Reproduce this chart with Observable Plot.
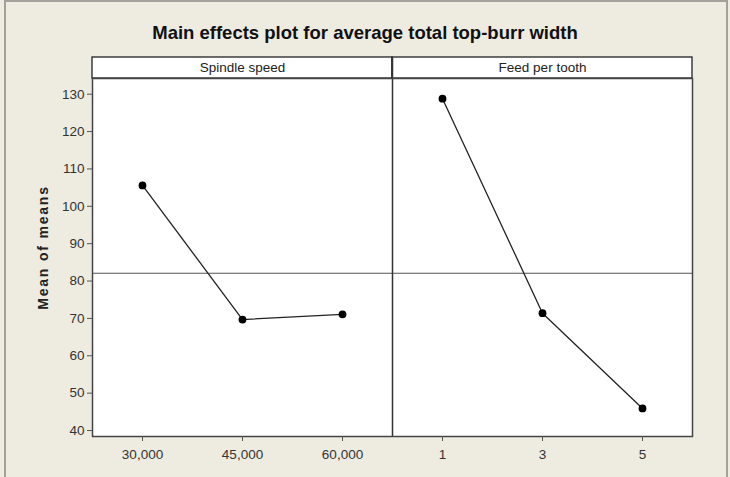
<!DOCTYPE html>
<html>
<head>
<meta charset="utf-8">
<script src="https://cdn.jsdelivr.net/npm/d3@7"></script>
<script src="https://cdn.jsdelivr.net/npm/@observablehq/plot@0.6"></script>
<style>
  html, body { margin: 0; padding: 0; background: #ffffff; }
  #wrap { position: relative; width: 730px; height: 477px; background: #eeebe1; overflow: hidden;
          font-family: "Liberation Sans", Arial, sans-serif; }
  #border { position: absolute; left: 4px; top: 0px; width: 724px; height: 500px;
            border: 2px solid #a3a19b; box-sizing: border-box; }
  #title { position: absolute; left: 0; top: 22px; width: 730px; text-align: center;
           font-weight: bold; font-size: 18.5px; color: #111; }
  #chart { position: absolute; left: 0; top: 0; }
  .ylab text { letter-spacing: 1.8px; }
</style>
</head>
<body>
<div id="wrap">
  <div id="border"></div>
  <div id="chart"></div>
  <div id="title">Main effects plot for average total top-burr width</div>
</div>
<script>
// ---- data ----
const factors = ["Spindle speed", "Feed per tooth"];
const spindleLevels = ["30,000", "45,000", "60,000"];
const spindleMeans = [105.6, 69.7, 71.1];
const feedLevels = ["1", "3", "5"];
const feedMeans = [128.8, 71.4, 45.9];
const yTicks = [40, 50, 60, 70, 80, 90, 100, 110, 120, 130];
const yLabel = "Mean of means";

// ---- build table ----
const levelsByFactor = [spindleLevels, feedLevels];
const meansByFactor = [spindleMeans, feedMeans];
const rows = [];
const headers = [];
let idx = 0;
factors.forEach((f, k) => {
  const start = idx;
  levelsByFactor[k].forEach((lvl, j) => {
    rows.push({factor: f, level: lvl, idx: idx, mean: meansByFactor[k][j]});
    idx++;
  });
  headers.push({name: f, x1: start - 0.5, x2: idx - 0.5, mid: (start + idx - 1) / 2});
});
const allLabels = rows.map(d => d.level);
const grandMean = d3.mean(rows, d => d.mean);

// ---- layout ----
const W = 730, H = 477;
const mTop = 78, mBottom = 41, mLeft = 92, mRight = 38;
const yMin = 38.4, yMax = 134.2;
const headerPx = 21;
const pxPerUnit = (H - mTop - mBottom) / (yMax - yMin);
const headerTop = yMax + headerPx / pxPerUnit;
const headerMid = yMax + headerPx / 2 / pxPerUnit;

const plot = Plot.plot({
  width: W,
  height: H,
  marginTop: mTop,
  marginBottom: mBottom,
  marginLeft: mLeft,
  marginRight: mRight,
  style: {background: "transparent", fontFamily: "Liberation Sans, Arial, sans-serif", fontSize: "13px", color: "#333"},
  x: {type: "linear", domain: [-0.5, rows.length - 0.5]},
  y: {domain: [yMin, yMax]},
  marks: [
    Plot.frame({fill: "white", stroke: "none"}),
    Plot.rect(headers, {x1: "x1", x2: "x2", y1: yMax, y2: headerTop, fill: "white", stroke: "#222", strokeWidth: 1.3}),
    Plot.text(headers, {x: "mid", y: headerMid, text: "name", fill: "#222", fontSize: 13.5}),
    Plot.ruleY([grandMean], {stroke: "#555", strokeWidth: 1.2}),
    Plot.ruleX([spindleLevels.length - 0.5], {y1: yMin, y2: headerTop, stroke: "#333", strokeWidth: 1.5}),
    Plot.frame({stroke: "#444", strokeWidth: 1.5}),
    Plot.line(rows, {x: "idx", y: "mean", z: "factor", stroke: "#222", strokeWidth: 1.3}),
    Plot.dot(rows, {x: "idx", y: "mean", r: 3.9, fill: "#000", stroke: "none"}),
    Plot.axisY({ticks: yTicks, tickSize: 5, tickPadding: 3, stroke: "#555", fill: "#333", fontSize: 13.5, label: null}),
    Plot.axisX({ticks: rows.map(d => d.idx), tickFormat: i => allLabels[i], tickSize: 5, tickPadding: 8, stroke: "#555", fill: "#333", fontSize: 13.5, label: null}),
    Plot.text([yLabel], {frameAnchor: "left", textAnchor: "middle", rotate: -90, dx: -49, dy: -10, fontWeight: "bold", fontSize: 14, fill: "#222", text: d => d, className: "ylab"})
  ]
});
document.getElementById("chart").appendChild(plot);
</script>
</body>
</html>
